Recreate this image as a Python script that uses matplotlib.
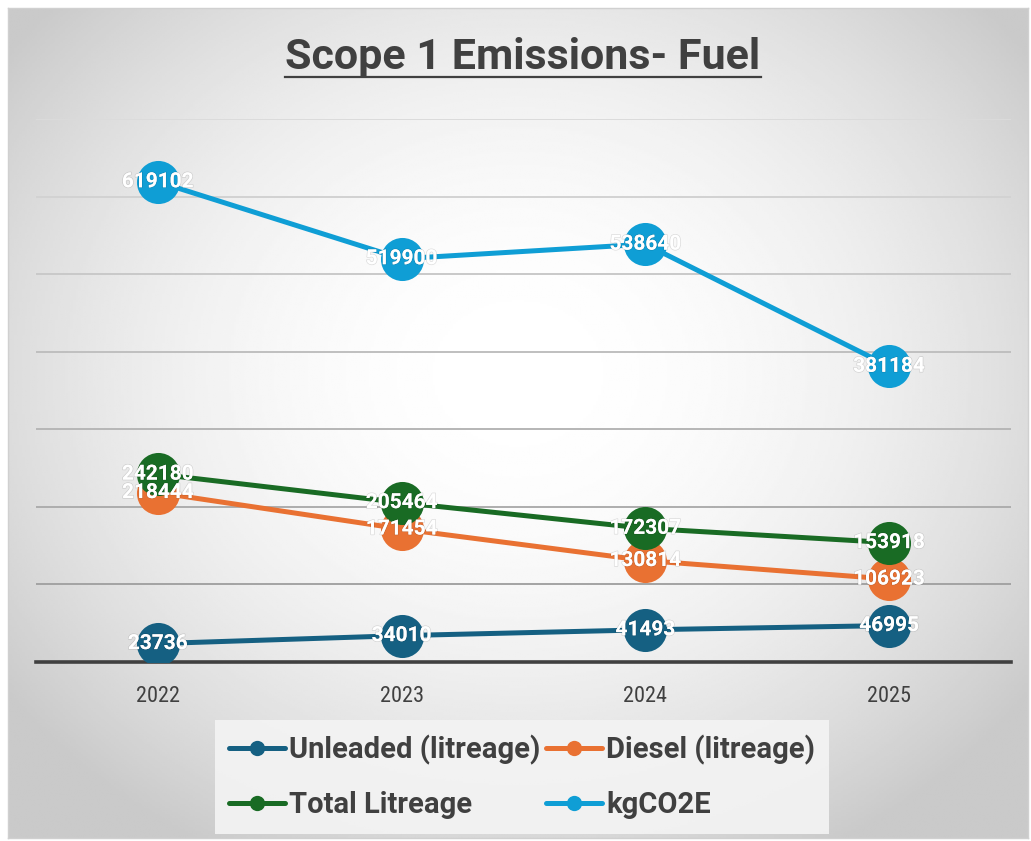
import numpy as np
import matplotlib
matplotlib.use("Agg")
import matplotlib.pyplot as plt
from matplotlib.lines import Line2D
import matplotlib.patheffects as pe

plt.rcParams['font.family'] = ['Roboto', 'DejaVu Sans']
NARROW = ['Roboto Condensed', 'Roboto', 'DejaVu Sans']

years = ['2022', '2023', '2024', '2025']
unleaded = [23736, 34010, 41493, 46995]
diesel = [218444, 171454, 130814, 106923]
total = [242180, 205464, 172307, 153918]
kgco2e = [619102, 519900, 538640, 381184]

series = [
    ('Unleaded (litreage)', unleaded, '#156082'),
    ('Diesel (litreage)', diesel, '#E97132'),
    ('Total Litreage', total, '#196B24'),
    ('kgCO2E', kgco2e, '#0F9ED5'),
]

W, H = 1031, 841
fig = plt.figure(figsize=(W / 100, H / 100), dpi=100)
fig.patch.set_facecolor('white')

# radial gradient background of the chart area
bg = fig.add_axes([8 / W, 3 / H, 1020 / W, 830 / H], zorder=0)
gx, gy = np.meshgrid(np.linspace(-1, 1, 400), np.linspace(-1, 1, 400))
r = np.sqrt(gx ** 2 + ((gy + 0.12) / 1.05) ** 2)
shade = 1.0 - 0.21 * np.clip(r / 1.25, 0, 1) ** 2.0
bg.imshow(shade, cmap='gray', vmin=0, vmax=1, aspect='auto', extent=[0, 1, 0, 1])
bg.set_xticks([])
bg.set_yticks([])
for s in bg.spines.values():
    s.set_color('#d0d0d0')
    s.set_linewidth(1)

ax = fig.add_axes([36 / W, (H - 662) / H, 975 / W, (662 - 119) / H], zorder=1)
ax.patch.set_alpha(0)

x = np.arange(len(years))
for name, vals, col in series:
    ax.plot(x, vals, color=col, lw=3.6, marker='o', markersize=31,
            markeredgewidth=0, solid_capstyle='round', zorder=3)

for name, vals, col in series:
    for xi, v in zip(x, vals):
        ax.text(xi, v, str(v), ha='center', va='center', color='white',
                fontsize=15, fontweight='bold', zorder=5,
                path_effects=[pe.withStroke(linewidth=1.0, foreground=(0, 0, 0, 0.12))])

ax.set_xlim(-0.5, 3.5)
ax.set_ylim(0, 700000)
ax.set_yticks([])
# gridlines fade from darker at the bottom to lighter at the top
grid_vals = np.arange(100000, 700001, 100000)
for i, gv in enumerate(grid_vals):
    c = 0.64 + 0.22 * i / (len(grid_vals) - 1)
    ax.axhline(gv, color=(c, c, c), lw=1.4, zorder=1)
ax.set_xticks(x)
ax.set_xticklabels(years, fontsize=16, color='#404040', family=NARROW)
ax.tick_params(axis='x', length=0, pad=17)
for k in ['top', 'left', 'right']:
    ax.spines[k].set_visible(False)
ax.spines['bottom'].set_color('#404040')
ax.spines['bottom'].set_linewidth(2.6)
ax.spines['bottom'].set_zorder(2)

# excel fills the legend row by row, matplotlib column by column
order = [0, 2, 1, 3]
handles = [Line2D([], [], color=series[i][2], lw=3.6, marker='o', markersize=11,
                  markeredgewidth=0, solid_capstyle='round') for i in order]
leg = fig.legend(handles, [series[i][0] for i in order], ncol=2, loc='center',
                 bbox_to_anchor=(522 / W, 1 - 777 / H),
                 prop={'weight': 'bold', 'size': 21},
                 frameon=True, fancybox=False, handlelength=1.9,
                 handletextpad=0.15, columnspacing=0.2, labelspacing=0.9,
                 borderpad=0.5)
leg.get_frame().set_facecolor('#f4f4f4')
leg.get_frame().set_edgecolor('none')
leg.get_frame().set_alpha(0.9)
for t in leg.get_texts():
    t.set_color('#404040')

title = fig.text(523 / W, 1 - 58 / H, 'Scope 1 Emissions- Fuel', ha='center',
                 va='center', fontsize=31, fontweight='bold', color='#404040')

# underline the title
fig.canvas.draw()
bb = title.get_window_extent()
uy = bb.y0 + 2
fig.add_artist(Line2D([bb.x0 / W, bb.x1 / W], [uy / H, uy / H],
                      color='#404040', lw=1.6))

fig.savefig('out.png', dpi=100)
